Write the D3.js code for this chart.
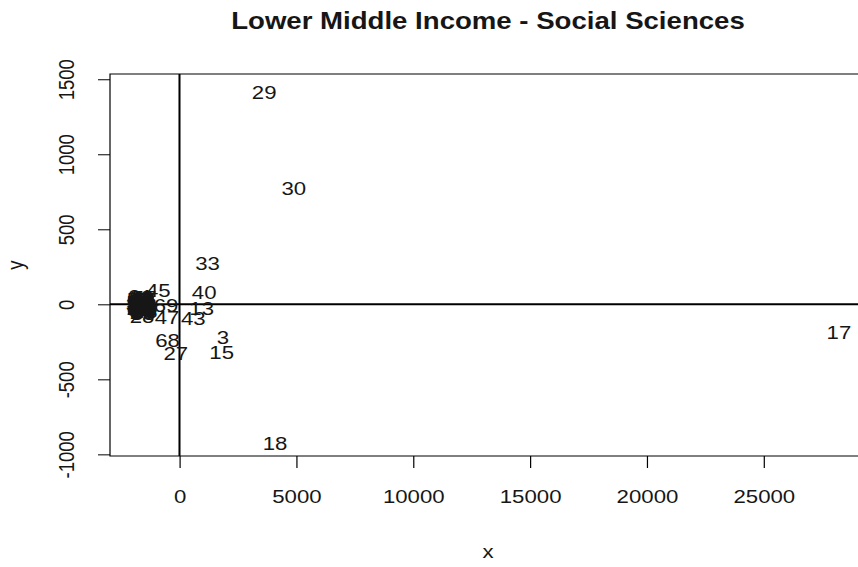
<!DOCTYPE html>
<html>
<head>
<meta charset="utf-8">
<script src="https://cdn.jsdelivr.net/npm/d3@7"></script>
<style>
  html, body { margin: 0; padding: 0; background: #fff; }
  svg { display: block; }
  text { font-family: "Liberation Sans", Arial, sans-serif; fill: #161616; }
</style>
</head>
<body>
<svg id="chart" width="858" height="567"></svg>
<script>
// Point labels with their x / y coordinates
const labels = [
  1, 2, 3, 4, 5, 6, 7, 8, 9, 10,
  11, 12, 13, 14, 15, 16, 17, 18, 19, 20,
  21, 22, 23, 24, 25, 26, 27, 28, 29, 30,
  31, 32, 33, 34, 35, 36, 37, 38, 39, 40,
  41, 42, 43, 44, 45, 46, 47, 48, 49, 50,
  51, 52, 53, 54, 55, 56, 57, 58, 59, 60,
  61, 62, 63, 64, 65, 66, 67, 68, 69, 70
];
const xValues = [
  -1700, -1650, 1861, -1750, -1600, -1550, -1720, -1500, -1680, -1620,
  -1760, -1580, 950, -1690, 1805, -1690, 28220, 4086, -1530, -1640,
  -1710, -1600, -1560, -1740, -1480, -1600, -158, -1605, 3624, 4892,
  -1660, -1700, 1198, -1520, -1776, -1630, -1580, -1560, -1700, 1056,
  -1570, -1640, 590, -1680, -907, -1540, -535, -1620, -1480, -1750,
  -1490, -1650, -1500, -1660, -1730, -1590, -1510, -1670, -1520, -1700,
  -1560, -1610, -1470, -1620, -1740, -1640, -1550, -513, -578, -1550
];
const yValues = [
  20, -10, -217, 5, 30, -20, -30, 10, 40, -40,
  -15, 15, -24, -5, -317, 25, -184, -926, -45, 0,
  10, 20, 35, -25, -30, -55, -324, -77, 1411, 774,
  50, -15, 270, 5, 0, -20, 10, -60, -5, 80,
  20, 40, -91, -40, 96, -10, -84, 30, -35, 15,
  25, -25, 0, -20, 35, -5, 45, 10, -45, -15,
  0, 15, -50, 25, -35, 45, -30, -237, -4, -10
];

// Axis limits and tick values
const xLimits = [-2974, 29378];
const yLimits = [-1011, 1535];
const xTicks = [0, 5000, 10000, 15000, 20000, 25000];
const yTicks = [-1000, -500, 0, 500, 1000, 1500];

const titleText = "Lower Middle Income - Social Sciences";
const xLabel = "x";
const yLabel = "y";

// The whole figure is drawn on a canvas that is widened horizontally
const sx = 1.2;
const plot = { left: 110 / sx, right: 866 / sx, top: 74, bottom: 456 };

const svg = d3.select("#chart");
const root = svg.append("g").attr("transform", `scale(${sx},1)`);

const x = d3.scaleLinear().domain(xLimits).range([plot.left, plot.right]);
const y = d3.scaleLinear().domain(yLimits).range([plot.bottom, plot.top]);

const points = labels.map((lab, i) => ({ lab, x: xValues[i], y: yValues[i] }));

// Clip to the plotting region
root.append("clipPath").attr("id", "plotclip")
  .append("rect")
  .attr("x", plot.left).attr("y", plot.top)
  .attr("width", plot.right - plot.left).attr("height", plot.bottom - plot.top);

const inner = root.append("g").attr("clip-path", "url(#plotclip)");

// Reference lines through the origin
inner.append("line")
  .attr("x1", plot.left).attr("x2", plot.right)
  .attr("y1", y(0)).attr("y2", y(0))
  .attr("stroke", "#000").attr("stroke-width", 2);
inner.append("line")
  .attr("x1", x(0)).attr("x2", x(0))
  .attr("y1", plot.top).attr("y2", plot.bottom)
  .attr("stroke", "#000").attr("stroke-width", 1.7);

// Point labels, centred on each point
inner.selectAll("text.pt")
  .data(points)
  .join("text")
  .attr("class", "pt")
  .attr("x", d => x(d.x))
  .attr("y", d => y(d.y))
  .attr("dy", "0.36em")
  .attr("text-anchor", "middle")
  .style("font-size", "18.5px")
  .text(d => d.lab);

// Box around the plotting region
root.append("rect")
  .attr("x", plot.left).attr("y", plot.top)
  .attr("width", plot.right - plot.left).attr("height", plot.bottom - plot.top)
  .attr("fill", "none").attr("stroke", "#000").attr("stroke-width", 1);

// Bottom axis
const xAxis = root.append("g")
  .attr("transform", `translate(0,${plot.bottom})`)
  .call(d3.axisBottom(x).tickValues(xTicks).tickSize(12).tickFormat(d => String(d)));
xAxis.select(".domain").remove();
xAxis.selectAll(".tick line").attr("stroke", "#000").attr("stroke-width", 1);
xAxis.selectAll(".tick text")
  .attr("y", 47).attr("dy", 0)
  .style("font-size", "18.5px")
  .attr("fill", "#161616");

// Left axis with labels rotated parallel to the axis
const yAxis = root.append("g")
  .attr("transform", `translate(${plot.left},0)`)
  .call(d3.axisLeft(y).tickValues(yTicks).tickSize(12 / sx).tickFormat(d => String(d)));
yAxis.select(".domain").remove();
yAxis.selectAll(".tick line").attr("stroke", "#000").attr("stroke-width", 1);
yAxis.selectAll(".tick text")
  .attr("x", null).attr("dy", null)
  .attr("text-anchor", "middle")
  .attr("transform", `translate(${(74 - 110) / sx},0) rotate(-90)`)
  .style("font-size", "18.5px")
  .attr("fill", "#161616");

// Title and axis titles
root.append("text")
  .attr("x", 488 / sx).attr("y", 29)
  .attr("text-anchor", "middle")
  .style("font-size", "23px").style("font-weight", "bold")
  .text(titleText);

root.append("text")
  .attr("x", 488 / sx).attr("y", 558)
  .attr("text-anchor", "middle")
  .style("font-size", "18.5px")
  .text(xLabel);

root.append("text")
  .attr("transform", `translate(${23 / sx},${(plot.top + plot.bottom) / 2}) rotate(-90)`)
  .attr("text-anchor", "middle")
  .style("font-size", "18.5px")
  .text(yLabel);
</script>
</body>
</html>
